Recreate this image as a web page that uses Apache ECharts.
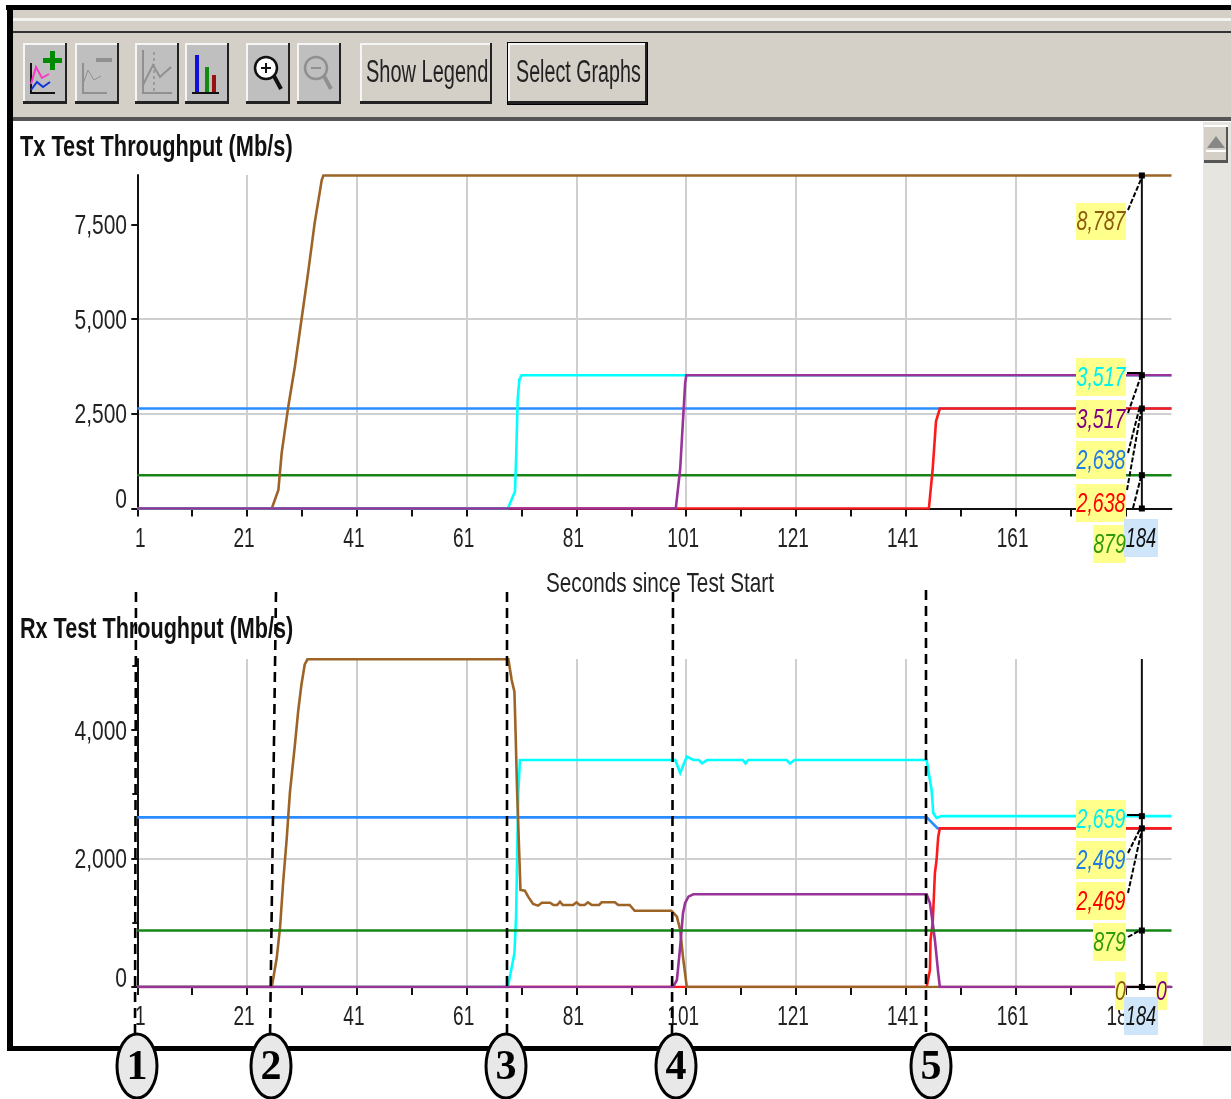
<!DOCTYPE html>
<html><head><meta charset="utf-8">
<style>html,body{margin:0;padding:0;background:#fff}#c{width:1231px;height:1099px;filter:blur(0.45px)}</style>
<script src="https://cdn.jsdelivr.net/npm/echarts@6/dist/echarts.min.js"></script>
</head><body><div id="c"></div>
<script>
// ---- data (seconds, Mb/s) ----
const endSec = 189.4;
const cursorSec = 184;
const txBrown = [[1,0],[25.5,0],[26.7,488],[27.3,1464],[28.5,2687],[29.7,3741],[30.9,4974],[32.1,6206],[33.3,7525],[34.6,8667],[34.9,8787],[endSec,8787]];
const txCyan = [[1,0],[68.5,0],[69.8,450],[70,1300],[70.3,2900],[70.6,3400],[71,3517],[endSec,3517]];
const txPurple = [[1,0],[99.1,0],[99.9,1050],[100.8,3300],[101,3517],[endSec,3517]];
const txBlue = [[1,2638],[endSec,2638]];
const txRed = [[1,0],[145.2,0],[145.9,1050],[146.5,2300],[147.2,2638],[endSec,2638]];
const txGreen = [[1,879],[endSec,879]];
const rxBrown = [[1,0],[25.5,0],[26.4,451],[27,924],[27.6,1665],[28.2,2288],[28.8,3024],[29.7,3760],[30.3,4285],[30.9,4705],[31.5,5020],[32,5100],[68.6,5100],[69.2,4778],[69.7,4596],[69.9,4000],[70.2,3019],[70.6,2028],[70.8,1510],[71.6,1499],[72.2,1406],[73.1,1292],[74,1266],[74.7,1312],[76.2,1312],[76.8,1276],[77.5,1276],[78,1328],[78.5,1276],[80.4,1276],[81,1318],[81.6,1276],[82.5,1276],[83.1,1318],[83.8,1276],[85.1,1276],[85.6,1318],[88,1318],[88.6,1276],[90.7,1276],[91.6,1187],[98.3,1187],[99.3,1094],[99.9,887],[100.4,472],[101.1,0],[endSec,0]];
const rxCyan = [[1,0],[68.5,0],[69.7,524],[70,1094],[70.2,2028],[70.4,3019],[70.7,3533],[99,3533],[99.9,3330],[101.1,3585],[102.3,3533],[103.3,3533],[103.9,3480],[104.8,3533],[111.3,3533],[111.8,3480],[112.3,3533],[119.3,3533],[119.9,3480],[120.7,3533],[144.8,3533],[145,3420],[145.7,3066],[146,2708],[146.6,2630],[147.5,2659],[endSec,2659]];
const rxPurple = [[1,0],[98.6,0],[99.3,109],[99.9,627],[100.4,1146],[100.8,1307],[101.4,1406],[102.3,1443],[144.8,1443],[145.4,1307],[145.9,996],[146.3,732],[146.9,218],[147.2,0],[endSec,0]];
const rxBlue = [[1,2640],[144.8,2640],[146.8,2469],[endSec,2469]];
const rxRed = [[1,0],[144.8,0],[145.4,265],[145.5,730],[145.9,996],[146.3,1774],[146.6,1977],[146.9,2335],[147.2,2469],[endSec,2469]];
const rxGreen = [[1,879],[endSec,879]];
const txCursorValues = [0,879,2638,3517,8787];
const rxCursorValues = [0,879,2469,2659];
const txTop = 8800, rxTop = 5105;
const xTickLabels = [1,21,41,61,81,101,121,141,161,181];
const txTickLabels = [0,2500,5000,7500];
const rxTickLabels = [0,2000,4000];
const txTitle = 'Tx Test Throughput (Mb/s)', rxTitle = 'Rx Test Throughput (Mb/s)';
const xName = 'Seconds since Test Start';
const stepLabels = ['1','2','3','4','5'];
const C = {brown:'#9c6426',cyan:'#00ffff',purple:'#993399',blue:'#2a8cff',red:'#ff1a1a',green:'#168516'};
const fmt = v => String(v).replace(/\B(?=(\d{3})+$)/g, ',');
const SANS = '"Liberation Sans",sans-serif';

// ---- chart pieces ----
function xAx(idx){
  return {gridIndex:idx,type:'value',min:1,max:endSec,interval:20,
    axisLine:{show:true,onZero:false,lineStyle:{color:'#111',width:2}},
    axisTick:{show:true,length:8,customValues:xTickLabels,lineStyle:{color:'#111',width:2}},
    minorTick:{show:true,splitNumber:2,length:8,lineStyle:{color:'#111',width:2}},
    splitLine:{show:true,showMinLine:false,showMaxLine:false,lineStyle:{color:'#cfcfcf',width:2}},
    axisLabel:{show:false}};
}
function yAx(idx,max,interval,marks,minor){
  return {gridIndex:idx,type:'value',min:0,max:max,interval:interval,
    axisLine:{show:true,lineStyle:{color:'#111',width:2}},
    axisTick:{show:true,length:6,customValues:marks,lineStyle:{color:'#111',width:2}},
    minorTick:{show:minor,splitNumber:2,length:5,lineStyle:{color:'#111',width:2}},
    splitLine:{show:true,showMinLine:false,showMaxLine:false,lineStyle:{color:'#cfcfcf',width:2}},
    axisLabel:{show:false}};
}
function ln(idx,data,color,z){
  return {type:'line',xAxisIndex:idx,yAxisIndex:idx,data:data,symbol:'none',z:z,silent:true,animation:false,lineStyle:{color:color,width:2.6,join:'miter'}};
}
function cursor(idx,values,top){
  const pts=values.map(v=>({value:[cursorSec,v]})); pts.push({value:[cursorSec,top],symbol:'none'});
  return {type:'line',xAxisIndex:idx,yAxisIndex:idx,data:pts,symbol:'rect',symbolSize:6,showSymbol:true,z:20,animation:false,silent:true,
    itemStyle:{color:'#000'},lineStyle:{color:'#111',width:2}};
}

const chart=echarts.init(document.getElementById('c'),null,{renderer:'canvas',width:1231,height:1099});
chart.setOption({
  animation:false,backgroundColor:'#fff',
  grid:[
    {left:137.3,top:175,width:1034.2,height:333.5},
    {left:137.3,top:659,width:1034.2,height:328}
  ],
  xAxis:[xAx(0),xAx(1)],
  yAxis:[yAx(0,txTop,2500,txTickLabels,false),yAx(1,rxTop,2000,rxTickLabels,true)],
  series:[
    ln(0,txGreen,C.green,3),ln(0,txBlue,C.blue,4),ln(0,txRed,C.red,5),ln(0,txBrown,C.brown,6),ln(0,txCyan,C.cyan,7),ln(0,txPurple,C.purple,8),
    cursor(0,txCursorValues,txTop),
    ln(1,rxBlue,C.blue,4),ln(1,rxRed,C.red,5),ln(1,rxCyan,C.cyan,6),ln(1,rxBrown,C.brown,7),ln(1,rxPurple,C.purple,8),ln(1,rxGreen,C.green,9),
    cursor(1,rxCursorValues,rxTop)
  ]
});

// ---- window chrome and annotations ----
const g=[];
const rect=(x,y,w,h,fill,z,extra)=>g.push({type:'rect',shape:{x,y,width:w,height:h},style:Object.assign({fill},extra||{}),z:z||1,silent:true});
const seg=(x1,y1,x2,y2,stroke,lw,dash,z)=>g.push({type:'line',shape:{x1,y1,x2,y2},style:{stroke,lineWidth:lw,lineDash:dash||null},z:z||60,silent:true});
const poly=(pts,stroke,lw,z)=>g.push({type:'polyline',shape:{points:pts},style:{stroke,lineWidth:lw,fill:null},z:z||5,silent:true});
const text=(x,y,t,font,fill,align,z,sx)=>g.push({type:'text',x,y,scaleX:sx||1,style:{text:t,font,fill,textAlign:align||'left',textVerticalAlign:'middle'},z:z||5,silent:true});

// tick labels placed through the chart's own scales
const tickFont='28px '+SANS, tickCol='#222';
[0,1].forEach(gi=>{
  xTickLabels.forEach(v=>{
    const px=chart.convertToPixel({xAxisIndex:gi},v), py=chart.convertToPixel({yAxisIndex:gi},0);
    text(px+(v===1?3:-3),py+(gi===0?31:30),String(v),tickFont,tickCol,'center',10,0.68);
  });
});
[[0,txTickLabels],[1,rxTickLabels]].forEach(([gi,list])=>{
  list.forEach(v=>{
    const py=chart.convertToPixel({yAxisIndex:gi},v);
    text(127,py+(v===0?-8:2),fmt(v),tickFont,tickCol,'right',10,0.75);
  });
});
text(660,584,xName,'28px '+SANS,tickCol,'center',10,0.74);
text(20,148,txTitle,'bold 29px '+SANS,'#111','left',10,0.75);
text(20,630,rxTitle,'bold 29px '+SANS,'#111','left',10,0.745);

rect(10,10,1221,22,'#d4d0c8',1); rect(10,18,1221,3,'#f4f3ef',1); rect(10,31,1221,2,'#333',2);
rect(10,33,1221,85,'#d4d0c8',1); rect(10,117,1221,4,'#555',2);
rect(6,5,1225,5,'#000',3); rect(7,5,6,1046,'#000',3); rect(20,1046,1211,5,'#000',3); rect(7,1046,13,5,'#000',3);
rect(1203,122,28,924,'#e7e5df',1); rect(1204,125,24,38,'#d4d0c8',2); rect(1204,160,24,3,'#555',3); rect(1226,125,2,38,'#555',3); rect(1204,125,24,2,'#fff',3);
g.push({type:'polygon',shape:{points:[[1216,136],[1225,148],[1207,148]]},style:{fill:'#888'},z:4,silent:true});
rect(1206,150,20,2,'#fff',4);

function btn(x,w,fill,outline){
  const y=43,h=61;
  if(outline){rect(x-1,y-1,w+2,h+2,'#000',2);}
  rect(x,y,w,h,fill,3);
  rect(x,y,w,2,'#f5f5f5',4); rect(x,y,2,h,'#f5f5f5',4);
  rect(x,y+h-3,w,3,'#222',4); rect(x+w-2,y,2,h,'#222',4);
}
const face='#bfbfbf', gray='#909090';
btn(23,44,face); btn(75,44,face); btn(135,44,face); btn(185,44,face); btn(246,44,face); btn(297,44,face);
btn(360,132,'#d4d0c8'); btn(508,139,'#d4d0c8',true);
poly([[31,63],[31,93],[55,93]],'#111',2); poly([[31,84],[36,67],[42,78],[49,74]],'#ff33cc',2); poly([[31,90],[37,82],[43,87],[50,82]],'#1133dd',2);
rect(50,51,5,19,'#008a00',6); rect(43,58,19,5,'#008a00',6);
poly([[83,63],[83,93],[107,93]],gray,2); poly([[83,84],[88,70],[94,80],[101,76]],gray,1,5); rect(96,58,16,4,gray,6);
poly([[143,50],[143,93],[172,93]],gray,2); poly([[143,85],[153,65],[160,77],[171,67]],gray,2); seg(154,52,154,92,gray,1.5,[3,3],6);
rect(195,55,4,38,'#1010d8',6); rect(205,67,4,26,'#108a10',6); rect(212,75,4,18,'#991111',6); rect(192,92,27,2,'#111',6);
function mag(cx,cy,col,fillc,sym){
  g.push({type:'circle',shape:{cx,cy,r:11},style:{stroke:col,lineWidth:2.5,fill:fillc},z:6,silent:true});
  seg(cx+8,cy+8,cx+15,cy+21,col,4,null,6);
  seg(cx-5,cy,cx+5,cy,col,2,null,7);
  if(sym) seg(cx,cy-5,cx,cy+5,col,2,null,7);
}
mag(266,68,'#111','#fff',true); mag(316,68,gray,null,false);
text(366,73,'Show Legend','31px '+SANS,'#222','left',6,0.645);
text(516,73,'Select Graphs','31px '+SANS,'#222','left',6,0.635);

const stepLines=[[136,592,135,1038],[276,592,270,1038],[507,592,507,1038],[673,592,672,1036],[926,590,926,1036]];
stepLines.forEach(l=>seg(l[0],l[1],l[2],l[3],'#000',2.6,[10,6],60));
const stepCx=[137,271,506,676,931];
stepCx.forEach((cx,i)=>{
  g.push({type:'ellipse',shape:{cx,cy:1066,rx:20,ry:32},style:{fill:'#e8e8e8',stroke:'#000',lineWidth:3},z:70,silent:true});
  text(cx,1068,stepLabels[i],'bold 42px "Liberation Serif",serif','#000','center',71);
});

const calloutFont='italic 28px '+SANS;
function callout(x,y,w,h,label,color,bg,sx){
  rect(x,y,w,h,bg||'#ffff8c',40);
  text(x+w/2,y+h/2+1,label,calloutFont,color,'center',41,sx||0.7);
}
[[1128,210,1142,177],[1127,373,1142,373],[1128,413,1142,373],[1128,453,1140,406],[1127,490,1142,406],[1133,508,1142,473],
 [1127,815,1142,815],[1128,853,1140,829],[1128,893,1142,829],[1128,937,1142,929],[1127,987,1142,987],[1142,987,1156,987]]
 .forEach(l=>seg(l[0],l[1],l[2],l[3],'#000',2,l[1]===l[3]?null:[5,2],42));
callout(1076,203,50,37,fmt(txCursorValues[4]),'#8a5a10');
callout(1076,358,50,38,fmt(txCursorValues[3]),'#00f0f0');
callout(1076,400,50,38,fmt(txCursorValues[3]),'#800080');
callout(1076,441,50,38,fmt(txCursorValues[2]),'#1f7ae8');
callout(1076,484,50,38,fmt(txCursorValues[2]),'#ff0000');
callout(1093,525,33,38,fmt(txCursorValues[1]),'#2f9a10');
callout(1124,519,34,38,String(cursorSec),'#111','#cfe5fa',0.65);
callout(1076,800,50,38,fmt(rxCursorValues[3]),'#00f0f0');
callout(1076,841,50,38,fmt(rxCursorValues[2]),'#1f7ae8');
callout(1076,882,50,38,fmt(rxCursorValues[2]),'#ff0000');
callout(1093,923,33,38,fmt(rxCursorValues[1]),'#2f9a10');
callout(1115,972,11,38,fmt(rxCursorValues[0]),'#8a5a10');
callout(1156,972,11,38,fmt(rxCursorValues[0]),'#800080');
callout(1124,997,34,38,String(cursorSec),'#111','#cfe5fa',0.65);

chart.setOption({graphic:{elements:g}});
</script></body></html>
